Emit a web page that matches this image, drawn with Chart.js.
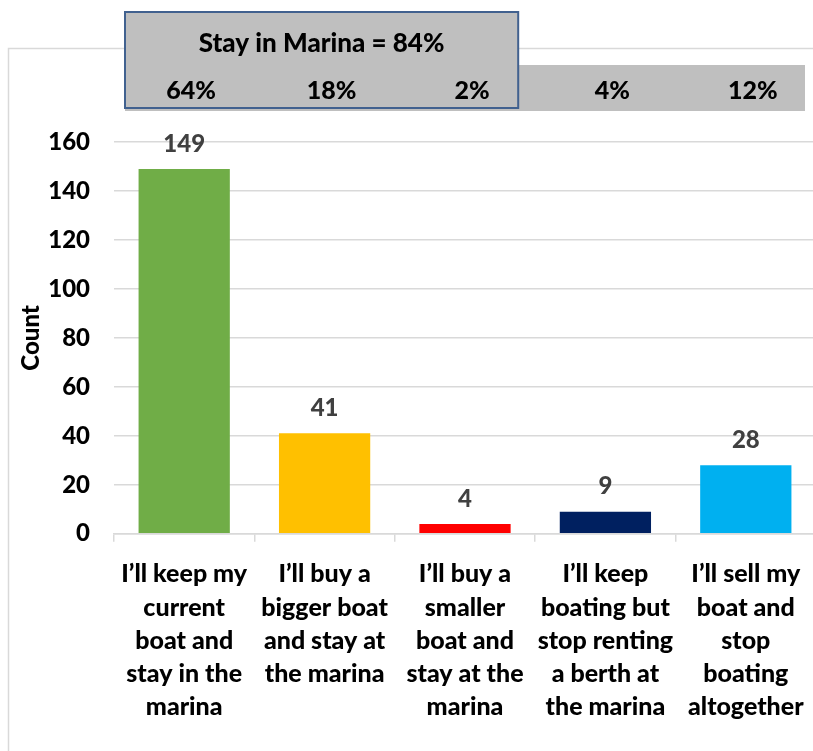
<!DOCTYPE html>
<html>
<head>
<meta charset="utf-8">
<script src="https://cdn.jsdelivr.net/npm/chart.js@4/dist/chart.umd.min.js"></script>
<style>
  html, body { margin: 0; padding: 0; background: #fff; overflow: hidden; }
  #wrap { width: 813px; height: 751px; overflow: hidden; position: relative; }
  #chart { position: absolute; left: 0; top: 0; }
</style>
</head>
<body>
<div id="wrap"><canvas id="chart" width="822" height="751"></canvas></div>
<script>
// data
const categories = [
    ['I\u2019ll keep my', 'current', 'boat and', 'stay in the', 'marina'],
    ['I\u2019ll buy a', 'bigger boat', 'and stay at', 'the marina'],
    ['I\u2019ll buy a', 'smaller', 'boat and', 'stay at the', 'marina'],
    ['I\u2019ll keep', 'boating but', 'stop renting', 'a berth at', 'the marina'],
    ['I\u2019ll sell my', 'boat and', 'stop', 'boating', 'altogether']
];
const counts = [149, 41, 4, 9, 28];
const barColors = ['#70AD47', '#FFC000', '#FF0000', '#002060', '#00B0F0'];
const pctLabels = ['64%', '18%', '2%', '4%', '12%'];
const stayLabel = 'Stay in Marina = 84%';
const yTicks = { min: 0, max: 160, step: 20 };

const FONT = 'Lato, "Open Sans", sans-serif';

// frame, grey band and the "stay" box above the bars
const overlay = {
    id: 'overlay',
    beforeDraw(chart) {
        const ctx = chart.ctx;
        ctx.save();
        ctx.strokeStyle = '#d9d9d9';
        ctx.lineWidth = 1.5;
        ctx.beginPath();
        ctx.moveTo(8.5, chart.height);
        ctx.lineTo(8.5, 48.5);
        ctx.lineTo(chart.width, 48.5);
        ctx.stroke();
        ctx.restore();
    },
    afterDraw(chart) {
        const ctx = chart.ctx;
        const xs = chart.scales.x;
        const area = chart.chartArea;
        const half = (xs.getPixelForValue(1) - xs.getPixelForValue(0)) / 2;
        const left = area.left + 11;
        const right = area.right - 11;
        const boxRight = xs.getPixelForValue(2) + half - 17;

        ctx.save();
        ctx.fillStyle = '#bfbfbf';
        ctx.fillRect(left, 65, right - left, 46);

        ctx.fillRect(left, 12, boxRight - left, 96);
        ctx.strokeStyle = '#41618f';
        ctx.lineWidth = 2;
        ctx.strokeRect(left, 12, boxRight - left, 96);

        ctx.fillStyle = '#000';
        ctx.font = '900 26px ' + FONT;
        ctx.textAlign = 'center';
        ctx.textBaseline = 'middle';
        ctx.fillText(stayLabel, (left + boxRight) / 2, 44);
        ctx.font = '900 25px ' + FONT;
        pctLabels.forEach((t, i) => {
            ctx.fillText(t, xs.getPixelForValue(i) + 7, 91);
        });
        ctx.restore();
    }
};

// value labels above each bar
const valueLabels = {
    id: 'valueLabels',
    afterDatasetsDraw(chart) {
        const ctx = chart.ctx;
        ctx.save();
        ctx.fillStyle = '#404040';
        ctx.font = '900 24px ' + FONT;
        ctx.textAlign = 'center';
        ctx.textBaseline = 'middle';
        chart.getDatasetMeta(0).data.forEach((bar, i) => {
            ctx.fillText(String(counts[i]), bar.x, bar.y - 25);
        });
        ctx.restore();
    }
};

new Chart(document.getElementById('chart').getContext('2d'), {
    type: 'bar',
    data: {
        labels: categories,
        datasets: [{
            data: counts,
            backgroundColor: barColors,
            borderWidth: 0,
            categoryPercentage: 0.65,
            barPercentage: 1
        }]
    },
    options: {
        responsive: false,
        animation: false,
        layout: { padding: { top: 142, left: 17, right: 6, bottom: 11 } },
        plugins: {
            legend: { display: false },
            tooltip: { enabled: false }
        },
        scales: {
            y: {
                min: yTicks.min,
                max: yTicks.max,
                afterFit(scale) { scale.width = 97; },
                ticks: {
                    stepSize: yTicks.step,
                    color: '#000',
                    padding: 24,
                    font: { family: FONT, size: 24, weight: '900' }
                },
                grid: { color: '#d9d9d9', lineWidth: 1.5, drawTicks: false },
                border: { display: false },
                title: {
                    display: true,
                    text: 'Count',
                    color: '#000',
                    padding: 0,
                    font: { family: FONT, size: 24, weight: '900' }
                }
            },
            x: {
                ticks: {
                    color: '#000',
                    padding: 16,
                    maxRotation: 0,
                    autoSkip: false,
                    font: { family: FONT, size: 25, weight: '900', lineHeight: 1.33 }
                },
                grid: {
                    drawOnChartArea: false,
                    offset: true,
                    tickLength: 8,
                    color: '#d9d9d9',
                    lineWidth: 1.5
                },
                border: { color: '#d9d9d9', width: 1.5 }
            }
        }
    },
    plugins: [overlay, valueLabels]
});
</script>
</body>
</html>
